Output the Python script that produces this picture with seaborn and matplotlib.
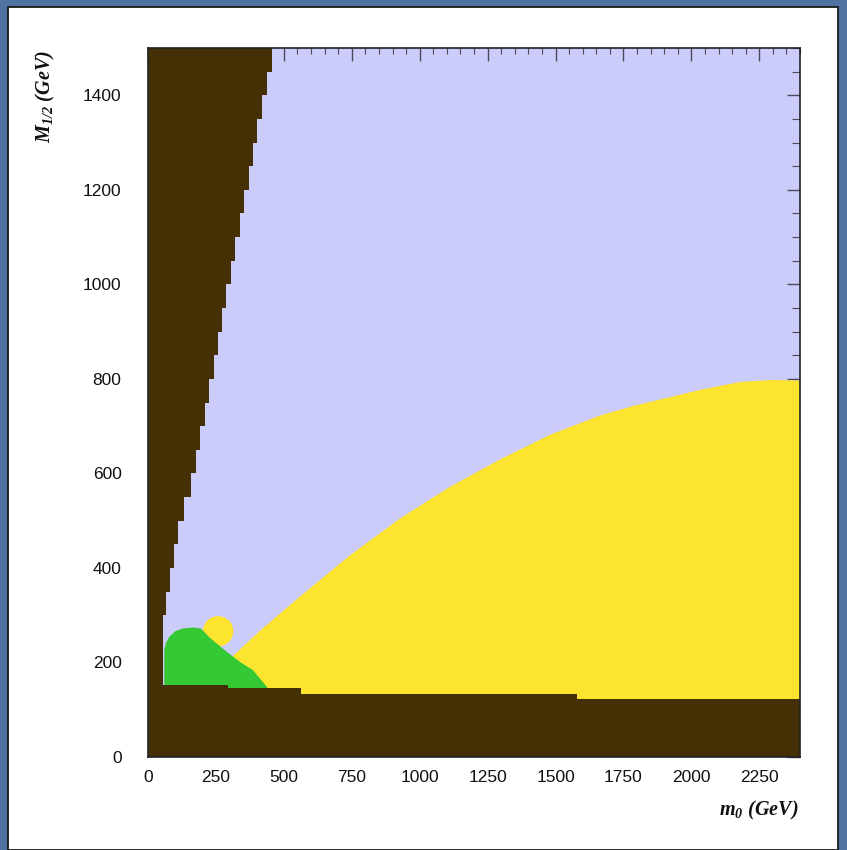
import matplotlib
matplotlib.use("Agg")
import matplotlib.pyplot as plt
from matplotlib.patches import Rectangle, Ellipse
import numpy as np
import pandas as pd
import seaborn as sns

# ---- region boundaries in the (m0, M1/2) plane, GeV ----
# charged-LSP wedge: right edge m0 as a function of M1/2
wedge_M = [150, 200, 250, 300, 350, 400, 450, 500, 550, 600, 650, 700, 750, 800,
           850, 900, 950, 1000, 1050, 1100, 1150, 1200, 1250, 1300, 1350, 1400,
           1450, 1500]
wedge_m0 = [55, 55, 57, 66, 80, 95, 112, 132, 160, 178, 193, 208, 224, 243,
            258, 272, 288, 305, 320, 337, 352, 370, 387, 403, 420, 437, 455, 467]

# theoretically excluded floor (no EWSB / LEP): stepped upper edge
floor_m0 = [0, 293, 564, 1580, 2400]
floor_M = [153, 145, 134, 123, 123]

# large yellow region: upper boundary
yellow_m0 = [300, 300, 313, 420, 548, 744, 928, 1112, 1296, 1480, 1664, 1785,
             1900, 2032, 2179, 2290, 2400]
yellow_M = [140, 205, 212, 269, 332, 425, 503, 570, 628, 680, 721, 741,
            757, 775, 792, 796, 795]

# small yellow island
island_center = (258, 266)
island_size = (112, 64)

# green region outline
green_m0 = [60, 60, 66, 78, 100, 129, 165, 195, 228, 291, 339, 386, 438, 445]
green_M = [140, 226, 241, 254, 266, 272, 274, 272, 252, 222, 201, 184, 148, 140]

x_ticks = [0, 250, 500, 750, 1000, 1250, 1500, 1750, 2000, 2250]
y_ticks = [0, 200, 400, 600, 800, 1000, 1200, 1400]

BROWN = "#452F05"
LAVENDER = "#CCCCFA"
YELLOW = "#FDE42E"
GREEN = "#34C834"

sns.set_theme(style="ticks")
plt.rcParams["font.family"] = ["Liberation Sans", "DejaVu Sans"]
plt.rcParams["mathtext.fontset"] = "custom"
plt.rcParams["mathtext.it"] = "Liberation Serif:italic:bold"
plt.rcParams["mathtext.rm"] = "Liberation Serif:italic:bold"
plt.rcParams["mathtext.bf"] = "Liberation Serif:italic:bold"

W, H = 847, 850
fig = plt.figure(figsize=(W / 100, H / 100), dpi=100, facecolor="#4E73A0")
fig.add_artist(Rectangle((8 / W, 0), (838 - 8) / W, (843) / H,
                         transform=fig.transFigure, facecolor="white",
                         edgecolor="#1a1a1a", lw=1.3, zorder=0))

ax = fig.add_axes([148 / W, 1 - 757 / H, (800 - 148) / W, (757 - 48) / H])
ax.set_facecolor(LAVENDER)
ax.set_xlim(0, 2400)
ax.set_ylim(0, 1500)

# yellow region
ax.fill(yellow_m0 + [2400, 300], yellow_M + [100, 100], color=YELLOW, lw=0, zorder=1)
yb = pd.DataFrame({"m0": yellow_m0[2:], "M": yellow_M[2:]})
sns.lineplot(data=yb, x="m0", y="M", sort=False, estimator=None,
             color=YELLOW, lw=1.0, ax=ax, zorder=1)
ax.add_patch(Ellipse(island_center, island_size[0], island_size[1],
                     facecolor=YELLOW, lw=0, zorder=2))

# green region
ax.fill(green_m0, green_M, color=GREEN, lw=0, zorder=3)

# brown excluded regions
ax.fill_betweenx(wedge_M, 0, wedge_m0, step="post", color=BROWN, lw=0, zorder=4)
ax.fill_betweenx([140, 150], 0, [56, 56], color=BROWN, lw=0, zorder=4)
ax.fill_between(floor_m0, 0, floor_M, step="post", color=BROWN, lw=0, zorder=4)

# axes styling
ax.set_xticks(x_ticks)
ax.set_yticks(y_ticks)
ax.set_xticks(np.arange(0, 2401, 50), minor=True)
ax.set_yticks(np.arange(0, 1501, 50), minor=True)
ax.set_xticklabels([str(v) for v in x_ticks])
ax.set_yticklabels([str(v) for v in y_ticks])
ax.tick_params(axis="x", which="both", direction="in", bottom=False, top=True,
               labelbottom=True, labeltop=False, colors="#4a4a5a",
               labelcolor="#111111", labelsize=12.5, pad=9.5)
ax.tick_params(axis="y", which="both", direction="in", left=False, right=True,
               labelleft=True, labelright=False, colors="#4a4a5a",
               labelcolor="#111111", labelsize=12.5, pad=19)
ax.tick_params(which="major", length=9.5, width=1.0)
ax.tick_params(axis="x", which="minor", length=4.5, width=0.8)
ax.tick_params(axis="y", which="minor", length=5.5, width=0.8)
for s in ax.spines.values():
    s.set_color("#222222")
    s.set_linewidth(1.2)
    s.set_zorder(6)
ax.set_xlabel("")
ax.set_ylabel("")

fig.text(45 / W, 1 - 50 / H, r"$M_{1/2}\ (GeV)$", rotation=90, ha="center",
         va="top", fontsize=14.5, color="#111111")
fig.text(798 / W, 1 - 810 / H, r"$m_0\ (GeV)$", ha="right", va="center",
         fontsize=14.5, color="#111111")

fig.savefig("out.png", dpi=100, facecolor=fig.get_facecolor())
